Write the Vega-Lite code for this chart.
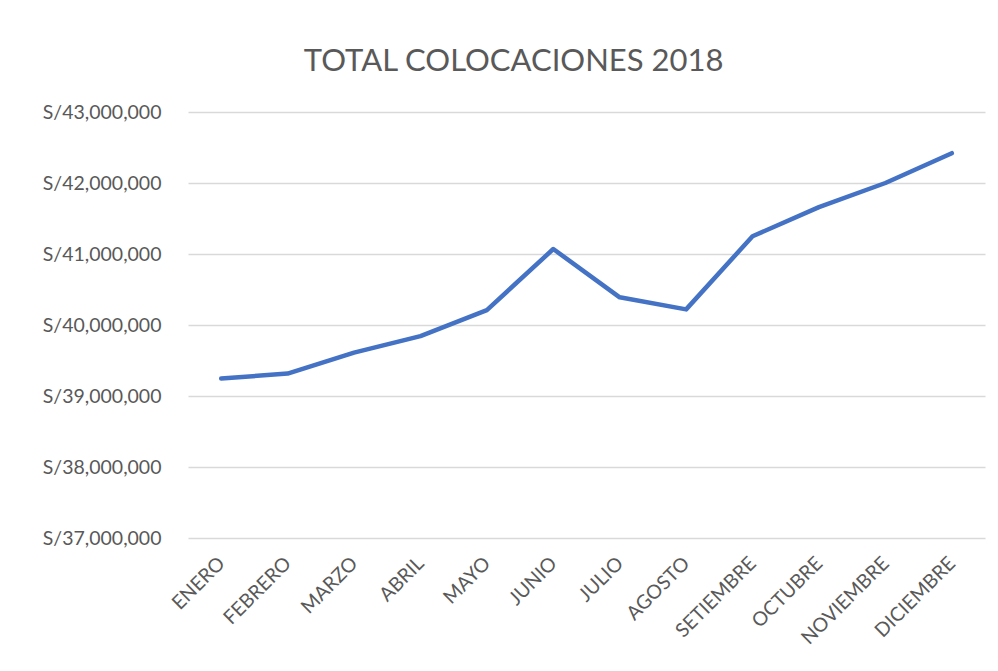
{
  "$schema": "https://vega.github.io/schema/vega-lite/v6.json",
  "width": 797,
  "height": 426,
  "autosize": "none",
  "padding": {"left": 188, "top": 112, "right": 13, "bottom": 133},
  "background": "white",
  "config": {
    "view": {"stroke": null},
    "font": "Lato"
  },
  "title": {
    "text": "TOTAL COLOCACIONES 2018",
    "font": "Lato",
    "fontSize": 31,
    "fontWeight": "normal",
    "color": "#595959",
    "anchor": "middle",
    "frame": "bounds",
    "baseline": "alphabetic",
    "offset": 0
  },
  "data": {
    "values": [
      {"mes": "ENERO", "total": 39245000},
      {"mes": "FEBRERO", "total": 39316000},
      {"mes": "MARZO", "total": 39610000},
      {"mes": "ABRIL", "total": 39844000},
      {"mes": "MAYO", "total": 40210000},
      {"mes": "JUNIO", "total": 41070000},
      {"mes": "JULIO", "total": 40390000},
      {"mes": "AGOSTO", "total": 40220000},
      {"mes": "SETIEMBRE", "total": 41250000},
      {"mes": "OCTUBRE", "total": 41660000},
      {"mes": "NOVIEMBRE", "total": 42000000},
      {"mes": "DICIEMBRE", "total": 42420000}
    ]
  },
  "mark": {"type": "line", "color": "#4472C4", "strokeWidth": 4.5, "strokeCap": "round", "strokeJoin": "round"},
  "encoding": {
    "x": {
      "field": "mes",
      "type": "ordinal",
      "sort": null,
      "scale": {"type": "point", "padding": 0.5},
      "axis": {
        "title": null,
        "domain": false,
        "ticks": false,
        "grid": false,
        "labelAngle": -45,
        "labelAlign": "right",
        "labelBaseline": "middle",
        "labelPadding": 22,
        "labelFont": "Lato",
        "labelFontSize": 19.5,
        "labelColor": "#595959"
      }
    },
    "y": {
      "field": "total",
      "type": "quantitative",
      "scale": {"domain": [37000000, 43000000], "nice": false, "zero": false},
      "axis": {
        "title": null,
        "domain": false,
        "ticks": false,
        "values": [37000000, 38000000, 39000000, 40000000, 41000000, 42000000, 43000000],
        "labelExpr": "'S/' + format(datum.value, ',')",
        "labelPadding": 27,
        "labelFont": "Lato",
        "labelFontSize": 19.5,
        "labelColor": "#595959",
        "gridColor": "#d9d9d9",
        "gridWidth": 1.3
      }
    }
  }
}
